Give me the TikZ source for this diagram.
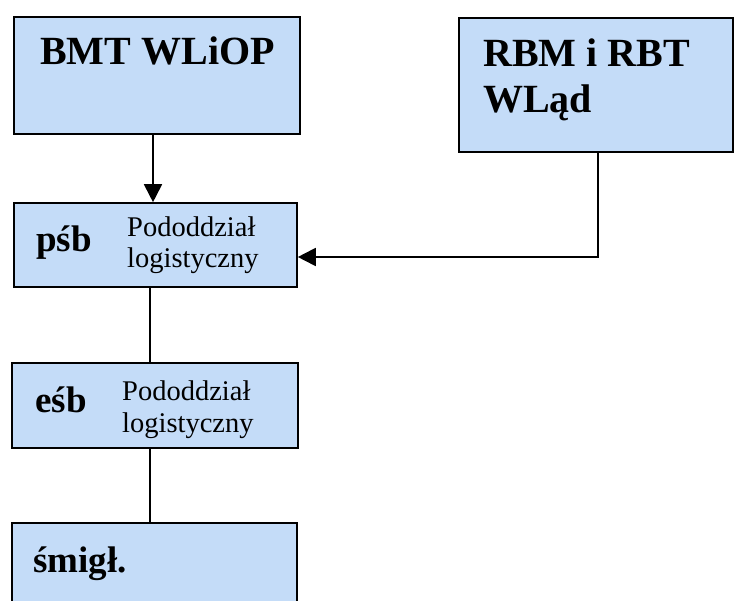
\documentclass[tikz,border=0pt]{standalone}
\usepackage{fontspec}
\setmainfont{Liberation Serif}
\usetikzlibrary{arrows.meta}

\begin{document}
\begin{tikzpicture}[x=1pt,y=-1pt,
  box/.style={draw, line width=1.6pt, fill=boxblue, inner sep=0pt},
  big/.style={anchor=base west, inner sep=0pt, font=\fontsize{40}{46}\selectfont\bfseries},
  mid/.style={anchor=base west, inner sep=0pt, font=\fontsize{37}{42}\selectfont\bfseries},
  small/.style={anchor=base west, inner sep=0pt, font=\fontsize{28.5}{31}\selectfont},
  link/.style={line width=1.8pt},
  tip/.style={-{Triangle[length=18pt, width=18pt]}}]

\definecolor{boxblue}{RGB}{196,220,248}

\useasboundingbox (0,0) rectangle (735,601);
\clip (0,0) rectangle (735,601);

% Boxes
\node[box, minimum width=286pt, minimum height=117pt] (bmt) at (157, 75.5) {};
\node[box, minimum width=274pt, minimum height=134pt] (rbm) at (596, 85) {};
\node[box, minimum width=283pt, minimum height=84pt] (psb) at (155.5, 245) {};
\node[box, minimum width=286pt, minimum height=85pt] (esb) at (155, 405.5) {};
\node[box, minimum width=285pt, minimum height=100pt] (smigl) at (154.5, 573) {};

% Labels
\node[big] (bmtText) at (40, 65) {BMT WLiOP};
\node[big] (rbmTextA) at (483, 67) {RBM i RBT};
\node[big] (rbmTextB) at (483, 113) {WLąd};

\node[mid] (psbText) at (36, 252) {pśb};
\node[small] (psbUnitA) at (127, 237) {Pododdział};
\node[small] (psbUnitB) at (127, 268) {logistyczny};

\node[mid] (esbText) at (35, 412) {eśb};
\node[small] (esbUnitA) at (122, 400) {Pododdział};
\node[small] (esbUnitB) at (122, 432) {logistyczny};

\node[mid] (smiglText) at (33, 572) {śmigł.};

% Connectors
\draw[link, tip] ([xshift=-4pt]bmt.south) -- ([xshift=-4pt]bmt.south |- psb.north);
\draw[link, tip] ([xshift=2pt]rbm.south) |- ([yshift=-12pt]psb.east);
\draw[link] ([xshift=-5.5pt]psb.south) -- ([xshift=-5.5pt]psb.south |- esb.north);
\draw[link] ([xshift=-5pt]esb.south) -- ([xshift=-5pt]esb.south |- smigl.north);

\end{tikzpicture}
\end{document}
